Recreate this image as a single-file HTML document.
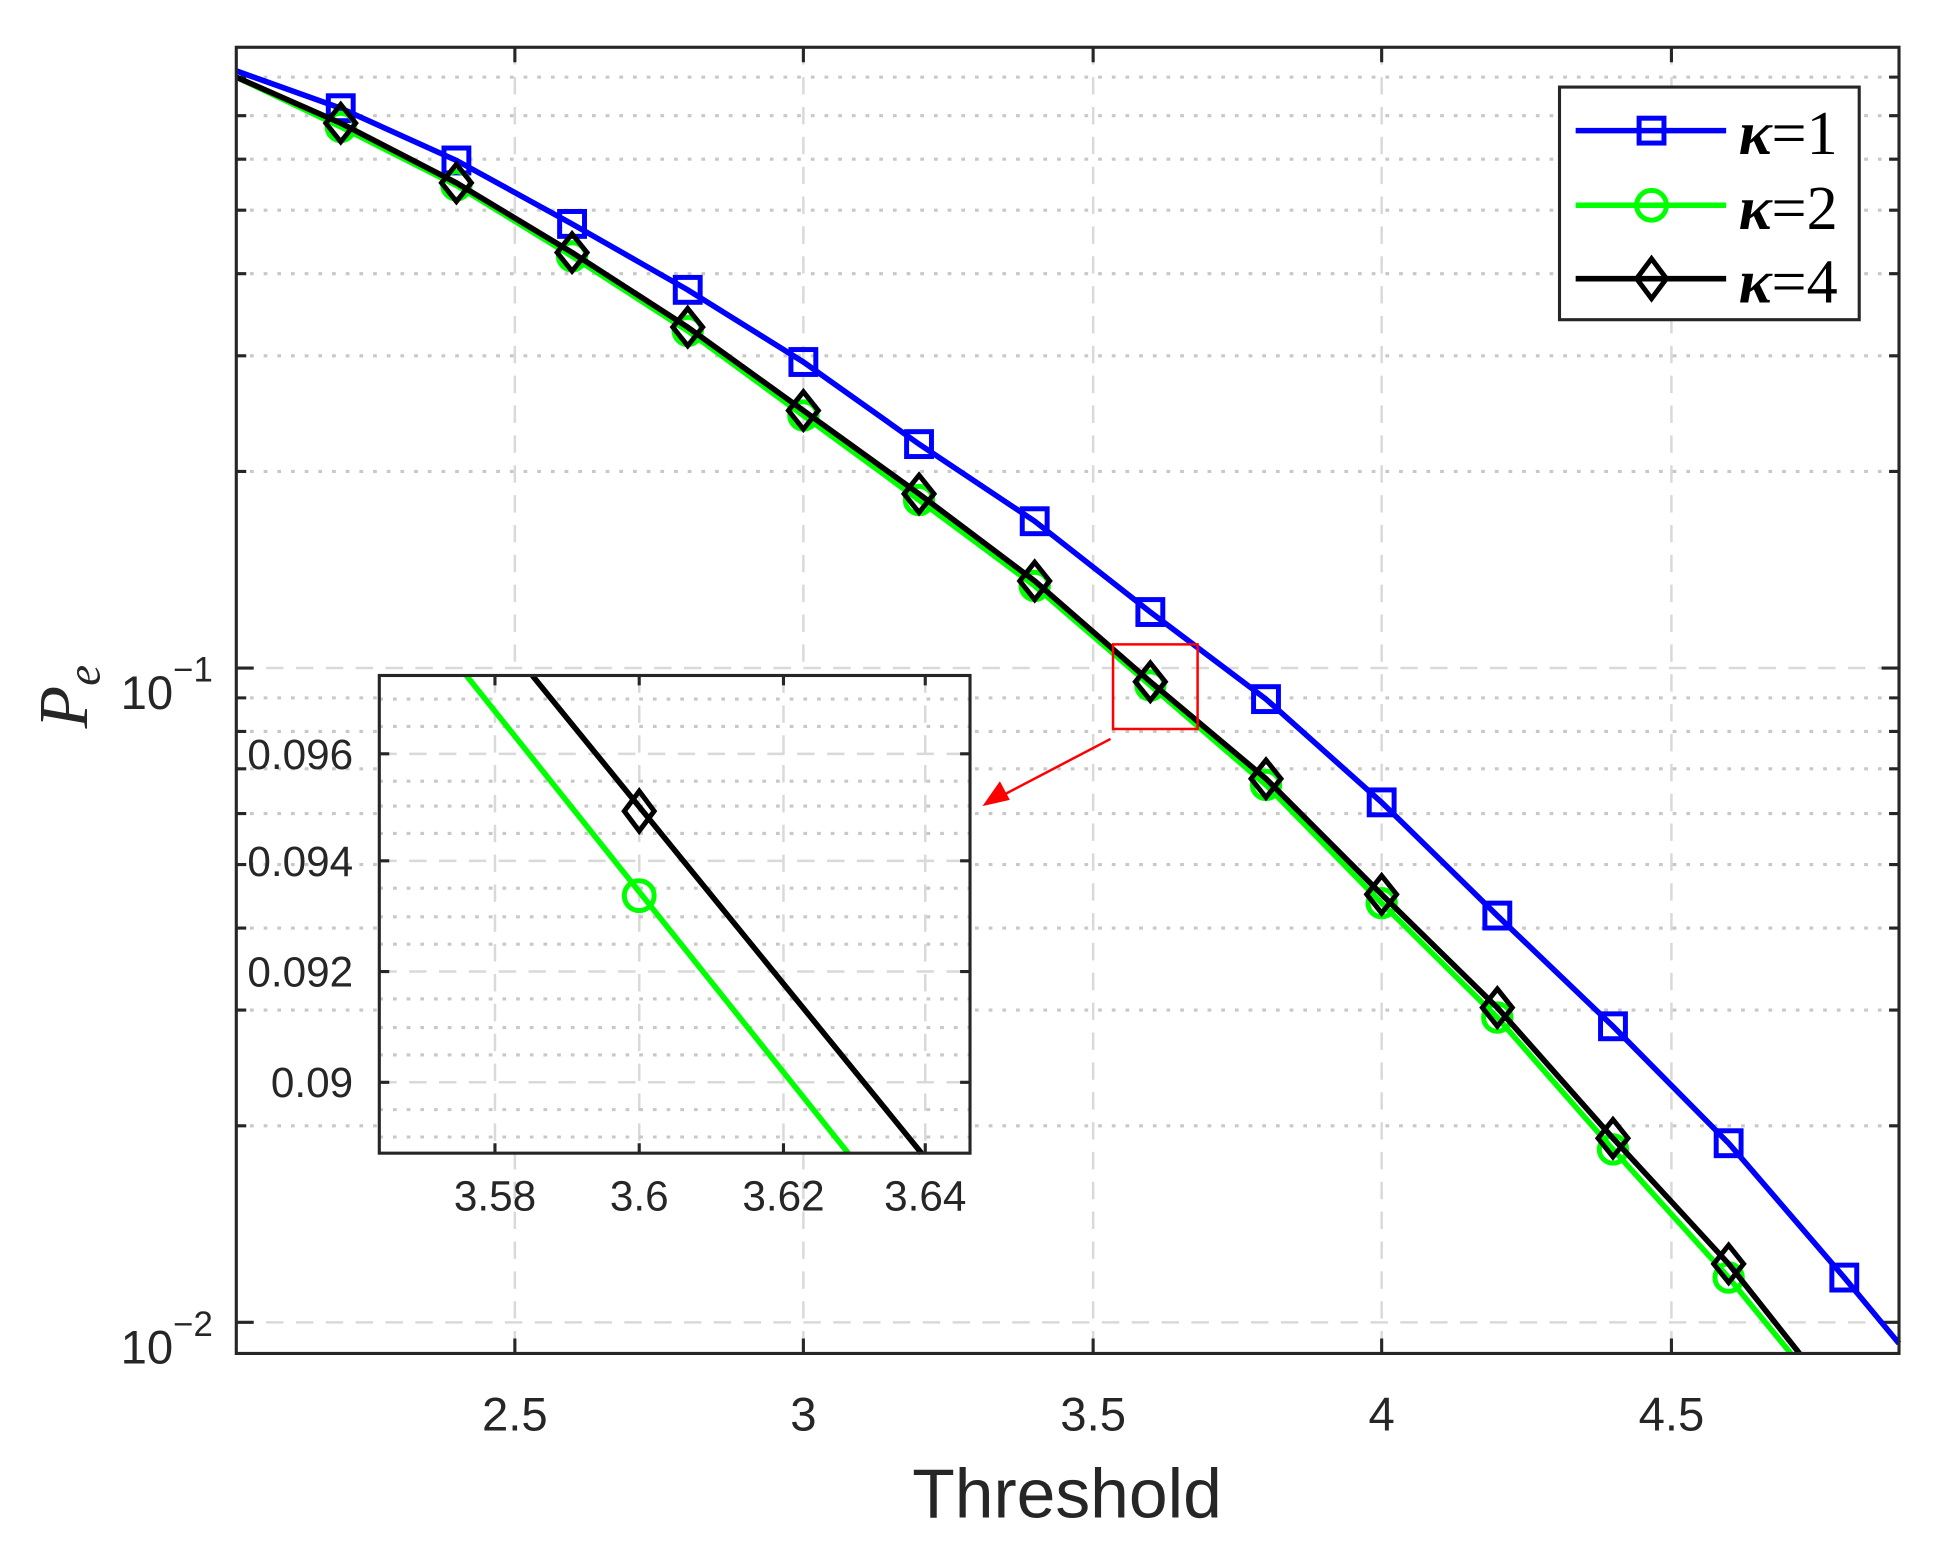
<!DOCTYPE html>
<html><head><meta charset="utf-8"><style>
html,body{margin:0;padding:0;background:#fff;}
svg{display:block;}
</style></head><body>
<svg width="1950" height="1550" viewBox="0 0 1568 1246" preserveAspectRatio="none" xmlns="http://www.w3.org/2000/svg">
<rect width="1568" height="1246" fill="#fff"/>
<g stroke="#d9d9d9" stroke-width="2" stroke-dasharray="14,10" fill="none">
<path d="M414 38V1088M646 38V1088M879 38V1088M1111 38V1088M1344 38V1088M190 537H1527M190 1063H1527"/>
</g>
<g stroke="#c8c8c8" stroke-width="2.5" stroke-dasharray="3,8" fill="none">
<path d="M190 62H1527M190 93H1527M190 128H1527M190 169H1527M190 220H1527M190 286H1527M190 379H1527M190 561H1527M190 588H1527M190 618H1527M190 654H1527M190 695H1527M190 746H1527M190 812H1527M190 905H1527"/>
</g>
<g stroke="#262626" stroke-width="2.5" fill="none">
<path d="M414 1088v-12M646 1088v-12M879 1088v-12M1111 1088v-12M1344 1088v-12M414 38v12M646 38v12M879 38v12M1111 38v12M1344 38v12"/>
<path d="M190 537h14M190 1063h14M1527 537h-14M1527 1063h-14"/>
<path d="M190 62h8M190 93h8M190 128h8M190 169h8M190 220h8M190 286h8M190 379h8M190 561h8M190 588h8M190 618h8M190 654h8M190 695h8M190 746h8M190 812h8M190 905h8M1527 62h-8M1527 93h-8M1527 128h-8M1527 169h-8M1527 220h-8M1527 286h-8M1527 379h-8M1527 561h-8M1527 588h-8M1527 618h-8M1527 654h-8M1527 695h-8M1527 746h-8M1527 812h-8M1527 905h-8"/>
</g>
<!-- blue -->
<polyline fill="none" stroke="#0000ff" stroke-width="4.5" points="190,57 274,87 367,129 460,180 553,233 646,291 739,357 832,419 925,492 1018,562 1111,645 1204,736 1297,825 1390,919 1483,1027 1527,1080"/>
<g fill="none" stroke="#0000ff" stroke-width="4">
<rect x="264" y="77" width="20" height="20"/><rect x="357" y="119" width="20" height="20"/><rect x="450" y="170" width="20" height="20"/><rect x="543" y="223" width="20" height="20"/><rect x="636" y="281" width="20" height="20"/><rect x="729" y="347" width="20" height="20"/><rect x="822" y="409" width="20" height="20"/><rect x="915" y="482" width="20" height="20"/><rect x="1008" y="552" width="20" height="20"/><rect x="1101" y="635" width="20" height="20"/><rect x="1194" y="726" width="20" height="20"/><rect x="1287" y="815" width="20" height="20"/><rect x="1380" y="909" width="20" height="20"/><rect x="1473" y="1017" width="20" height="20"/>
</g>
<!-- green -->
<polyline fill="none" stroke="#00ff00" stroke-width="4.5" points="190,62 274,102 367,149 460,206 553,266 646,334 739,402 832,471 925,551 1018,631 1111,726 1204,818 1297,924 1390,1027 1440,1088"/>
<g fill="none" stroke="#00ff00" stroke-width="4">
<circle cx="274" cy="102" r="11"/><circle cx="367" cy="149" r="11"/><circle cx="460" cy="206" r="11"/><circle cx="553" cy="266" r="11"/><circle cx="646" cy="334" r="11"/><circle cx="739" cy="402" r="11"/><circle cx="832" cy="471" r="11"/><circle cx="925" cy="551" r="11"/><circle cx="1018" cy="631" r="11"/><circle cx="1111" cy="726" r="11"/><circle cx="1204" cy="818" r="11"/><circle cx="1297" cy="924" r="11"/><circle cx="1390" cy="1027" r="11"/>
</g>
<!-- black -->
<polyline fill="none" stroke="#000" stroke-width="4.5" points="190,62 274,99 367,147 460,203 553,263 646,330 739,397 832,467 925,548 1018,626 1111,719 1204,810 1297,915 1390,1016 1447,1088"/>
<g fill="none" stroke="#000" stroke-width="4">
<path d="M274 84l12 15-12 15-12-15zM367 132l12 15-12 15-12-15zM460 188l12 15-12 15-12-15zM553 248l12 15-12 15-12-15zM646 315l12 15-12 15-12-15zM739 382l12 15-12 15-12-15zM832 452l12 15-12 15-12-15zM925 533l12 15-12 15-12-15zM1018 611l12 15-12 15-12-15zM1111 704l12 15-12 15-12-15zM1204 795l12 15-12 15-12-15zM1297 900l12 15-12 15-12-15zM1390 1001l12 15-12 15-12-15z"/>
</g>
<rect x="190" y="38" width="1337" height="1050" fill="none" stroke="#262626" stroke-width="2.5"/>
<!-- red box and arrow -->
<rect x="895" y="518" width="68" height="68" fill="none" stroke="#ff0000" stroke-width="2"/>
<line x1="893" y1="594" x2="805" y2="640" stroke="#ff0000" stroke-width="2"/>
<path d="M790 648l14-20 8 15z" fill="#ff0000"/>
<!-- legend -->
<rect x="1254" y="70" width="241" height="187" fill="#fff" stroke="#262626" stroke-width="2.5"/>
<line x1="1267" y1="105" x2="1388" y2="105" stroke="#0000ff" stroke-width="4.5"/>
<rect x="1318" y="95" width="20" height="20" fill="none" stroke="#0000ff" stroke-width="4"/>
<line x1="1267" y1="165" x2="1388" y2="165" stroke="#00ff00" stroke-width="4.5"/>
<circle cx="1328" cy="165" r="12" fill="none" stroke="#00ff00" stroke-width="4"/>
<line x1="1267" y1="224" x2="1388" y2="224" stroke="#000" stroke-width="4.5"/>
<path d="M1328 208l12 16-12 16-12-16z" fill="none" stroke="#000" stroke-width="4"/>
<g font-family="Liberation Serif, serif" font-size="50" fill="#000">
<text x="1398" y="124"><tspan font-style="italic" font-weight="bold">κ</tspan>=1</text>
<text x="1398" y="184"><tspan font-style="italic" font-weight="bold">κ</tspan>=2</text>
<text x="1398" y="243"><tspan font-style="italic" font-weight="bold">κ</tspan>=4</text>
</g>
<!-- inset -->
<rect x="305" y="543" width="475" height="384" fill="#fff"/>
<g stroke="#d9d9d9" stroke-width="2" stroke-dasharray="14,10" fill="none">
<path d="M398 543V927M514 543V927M630 543V927M744 543V927M305 606H780M305 692H780M305 781H780M305 870H780"/>
</g>
<g stroke="#c8c8c8" stroke-width="2.5" stroke-dasharray="3,8" fill="none">
<path d="M305 562H780M305 584H780M305 628H780M305 648H780M305 670H780M305 714H780M305 737H780M305 759H780M305 803H780M305 826H780M305 848H780M305 892H780M305 914H780"/>
</g>
<g stroke="#262626" stroke-width="2.5" fill="none">
<path d="M398 927v-8M514 927v-8M630 927v-8M744 927v-8M398 543v8M514 543v8M630 543v8M744 543v8M305 606h8M305 692h8M305 781h8M305 870h8M780 606h-8M780 692h-8M780 781h-8M780 870h-8"/>
</g>
<line x1="375" y1="543" x2="682" y2="927" stroke="#00ff00" stroke-width="4.5"/>
<line x1="428" y1="543" x2="741" y2="927" stroke="#000" stroke-width="4.5"/>
<circle cx="514" cy="720" r="12" fill="none" stroke="#00ff00" stroke-width="4"/>
<path d="M514 636l12 16-12 16-12-16z" fill="none" stroke="#000" stroke-width="4"/>
<rect x="305" y="543" width="475" height="384" fill="none" stroke="#262626" stroke-width="2.5"/>
<g font-family="Liberation Sans, sans-serif" font-size="34" fill="#262626">
<text x="398" y="973" text-anchor="middle">3.58</text>
<text x="514" y="973" text-anchor="middle">3.6</text>
<text x="630" y="973" text-anchor="middle">3.62</text>
<text x="744" y="973" text-anchor="middle">3.64</text>
<text x="284" y="618" text-anchor="end">0.096</text>
<text x="284" y="704" text-anchor="end">0.094</text>
<text x="284" y="793" text-anchor="end">0.092</text>
<text x="284" y="882" text-anchor="end">0.09</text>
</g>
<!-- axis labels -->
<g font-family="Liberation Sans, sans-serif" font-size="38" fill="#262626">
<text x="414" y="1150" text-anchor="middle">2.5</text>
<text x="646" y="1150" text-anchor="middle">3</text>
<text x="879" y="1150" text-anchor="middle">3.5</text>
<text x="1111" y="1150" text-anchor="middle">4</text>
<text x="1344" y="1150" text-anchor="middle">4.5</text>
<text x="97" y="570">10<tspan font-size="28" dy="-22">−1</tspan></text>
<text x="97" y="1096">10<tspan font-size="28" dy="-22">−2</tspan></text>
</g>
<text x="858" y="1220" text-anchor="middle" font-family="Liberation Sans, sans-serif" font-size="56" fill="#262626">Threshold</text>
<g transform="translate(70,560) rotate(-90)">
<text x="0" y="0" text-anchor="middle" font-family="Liberation Serif, serif" font-style="italic" font-size="56" fill="#262626">P<tspan font-size="38" dy="10">e</tspan></text>
</g>
</svg>
</body></html>
